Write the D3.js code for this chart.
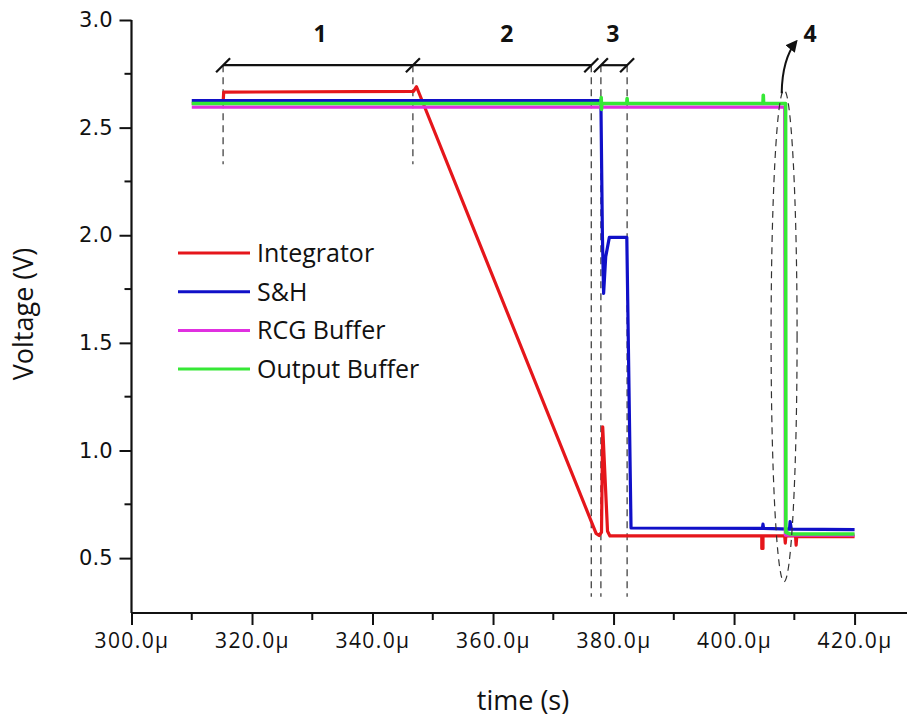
<!DOCTYPE html>
<html>
<head>
<meta charset="utf-8">
<script src="https://cdn.jsdelivr.net/npm/d3@7"></script>
<style>
  body { margin: 0; background: #fff; }
  svg { display: block; }
</style>
</head>
<body>
<div id="chart"></div>
<script>
var width = 907;
var height = 718;

// time in µs, voltage in V
var integratorT = [310, 315.2, 315.3, 346.8, 347.3, 347.8, 377.1, 377.6, 378.0, 378.2, 379.0, 379.4, 404.6, 404.6, 404.8, 404.8, 408.4, 408.5, 408.6, 410.2, 410.3, 410.4, 420];
var integratorV = [2.612, 2.612, 2.665, 2.668, 2.69, 2.655, 0.615, 0.605, 0.62, 1.11, 0.625, 0.603, 0.603, 0.545, 0.545, 0.603, 0.603, 0.57, 0.603, 0.603, 0.56, 0.6, 0.6];

var shT = [310, 377.9, 378.15, 378.35, 378.7, 379.3, 382.2, 382.9, 404.7, 404.8, 404.9, 409.2, 409.3, 409.5, 420];
var shV = [2.625, 2.625, 2.0, 1.73, 1.9, 1.99, 1.99, 0.64, 0.638, 0.658, 0.638, 0.635, 0.67, 0.635, 0.632];

var rcgT = [310, 408.4, 408.5, 420];
var rcgV = [2.595, 2.595, 0.607, 0.607];

var outT = [310, 377.9, 377.95, 378.0, 378.05, 382.2, 382.25, 382.3, 404.8, 404.85, 404.9, 408.55, 408.6, 409.3, 420];
var outV = [2.612, 2.612, 2.64, 2.585, 2.612, 2.612, 2.635, 2.612, 2.612, 2.65, 2.612, 2.612, 0.62, 0.612, 0.612];

var seriesNames = ["Integrator", "S&H", "RCG Buffer", "Output Buffer"];
var seriesColors = ["#e5161b", "#1010c8", "#e030e0", "#36e836"];

var xTicks = [300, 320, 340, 360, 380, 400, 420];
var xMinor = [310, 330, 350, 370, 390, 410];
var yTicks = [0.5, 1.0, 1.5, 2.0, 2.5, 3.0];
var yMinor = [0.75, 1.25, 1.75, 2.25, 2.75];

// phase markers (µs)
var phaseBounds = [315.2, 346.7, 376.3, 377.9, 382.25];
var phaseLabels = ["1", "2", "3"];
var phaseLabelT = [331.3, 362.3, 379.9];

var x = d3.scaleLinear().domain([300, 428.7]).range([131.5, 907]);
var y = d3.scaleLinear().domain([0.245, 3.0]).range([613, 20]);

var svg = d3.select("#chart").append("svg")
  .attr("width", width)
  .attr("height", height);

// axes
var xAxis = svg.append("g")
  .attr("transform", "translate(0," + y.range()[0] + ")")
  .call(d3.axisBottom(x).tickValues(xTicks).tickSize(12).tickPadding(8)
    .tickFormat(d => d.toFixed(1) + "\u00b5"));
xAxis.selectAll("text")
  .attr("font-family", "Open Sans")
  .attr("font-size", 21)
  .attr("letter-spacing", "1.4px")
  .attr("fill", "#111");
xAxis.append("g").selectAll("line")
  .data(xMinor)
  .join("line")
    .attr("x1", d => x(d)).attr("x2", d => x(d))
    .attr("y1", 0).attr("y2", 7)
    .attr("stroke", "#111").attr("stroke-width", 2);

var yAxis = svg.append("g")
  .attr("transform", "translate(" + x.range()[0] + ",0)")
  .call(d3.axisLeft(y).tickValues(yTicks).tickSize(12).tickPadding(7)
    .tickFormat(d3.format(".1f")));
yAxis.selectAll("text")
  .attr("font-family", "DejaVu Sans")
  .attr("font-size", 21)
  .attr("fill", "#111");
yAxis.append("g").selectAll("line")
  .data(yMinor)
  .join("line")
    .attr("y1", d => y(d)).attr("y2", d => y(d))
    .attr("x1", 0).attr("x2", -7)
    .attr("stroke", "#111").attr("stroke-width", 2);

svg.selectAll(".domain").attr("stroke", "#111").attr("stroke-width", 2.2);
svg.selectAll(".tick line").attr("stroke", "#111").attr("stroke-width", 2);
// x axis runs to the right edge with no end cap
xAxis.select(".domain").attr("d", "M" + x.range()[0] + ",0H" + x.range()[1]);
yAxis.select(".domain").attr("d", "M0," + y.range()[0] + "V" + y.range()[1]);

svg.append("text")
  .attr("x", 523).attr("y", 710)
  .attr("text-anchor", "middle")
  .attr("font-family", "Open Sans")
  .attr("font-size", 27)
  .attr("fill", "#111")
  .text("time (s)");

svg.append("text")
  .attr("transform", "translate(33,314) rotate(-90)")
  .attr("text-anchor", "middle")
  .attr("font-family", "Open Sans")
  .attr("font-size", 27)
  .attr("fill", "#111")
  .text("Voltage (V)");

// dashed guides
var dash = svg.append("g")
  .attr("stroke", "#333")
  .attr("stroke-width", 1.2)
  .attr("stroke-dasharray", "7,5");
dash.selectAll("line")
  .data(phaseBounds)
  .join("line")
    .attr("x1", d => x(d)).attr("x2", d => x(d))
    .attr("y1", y(2.79))
    .attr("y2", (d, i) => i < 2 ? y(2.33) : y(0.32));

// traces
var line = d3.line().x(d => x(d[0])).y(d => y(d[1]));
var series = [
  d3.zip(integratorT, integratorV),
  d3.zip(shT, shV),
  d3.zip(rcgT, rcgV),
  d3.zip(outT, outV)
];
svg.append("g").selectAll("path")
  .data(series)
  .join("path")
    .attr("d", line)
    .attr("fill", "none")
    .attr("stroke", (d, i) => seriesColors[i])
    .attr("stroke-width", (d, i) => i === 3 ? 3.6 : 3.2)
    .attr("stroke-linejoin", "round");

// phase bar on top
var bar = svg.append("g").attr("stroke", "#111").attr("stroke-width", 2.2);
bar.append("line")
  .attr("x1", x(phaseBounds[0])).attr("x2", x(phaseBounds[2]))
  .attr("y1", y(2.79)).attr("y2", y(2.79));
bar.append("line")
  .attr("x1", x(phaseBounds[3])).attr("x2", x(phaseBounds[4]))
  .attr("y1", y(2.79)).attr("y2", y(2.79));
bar.selectAll(".slash")
  .data(phaseBounds)
  .join("line")
    .attr("class", "slash")
    .attr("x1", d => x(d) - 7).attr("y1", y(2.79) + 7)
    .attr("x2", d => x(d) + 7).attr("y2", y(2.79) - 7);

svg.append("g").selectAll("text")
  .data(phaseLabels)
  .join("text")
    .attr("x", (d, i) => x(phaseLabelT[i]))
    .attr("y", y(2.9))
    .attr("text-anchor", "middle")
    .attr("font-family", "Open Sans")
    .attr("font-weight", "bold")
    .attr("font-size", 23)
    .attr("fill", "#111")
    .text(d => d);

// circled transition 4
svg.append("ellipse")
  .attr("cx", x(408.3)).attr("cy", (y(2.675) + y(0.39)) / 2)
  .attr("rx", 13).attr("ry", (y(0.39) - y(2.675)) / 2)
  .attr("fill", "none")
  .attr("stroke", "#333")
  .attr("stroke-width", 1.2)
  .attr("stroke-dasharray", "7,5");

svg.append("defs").append("marker")
  .attr("id", "head")
  .attr("viewBox", "0 0 10 10")
  .attr("refX", 8).attr("refY", 5)
  .attr("markerWidth", 6).attr("markerHeight", 6)
  .attr("orient", "auto")
  .append("path")
    .attr("d", "M0,0L10,5L0,10z")
    .attr("fill", "#111");

svg.append("path")
  .attr("d", "M" + x(407.9) + "," + y(2.66) +
    "Q" + x(408.0) + "," + y(2.82) + " " + x(410.3) + "," + y(2.9))
  .attr("fill", "none")
  .attr("stroke", "#111")
  .attr("stroke-width", 2)
  .attr("marker-end", "url(#head)");

svg.append("text")
  .attr("x", x(412.6)).attr("y", y(2.9))
  .attr("text-anchor", "middle")
  .attr("font-family", "Open Sans")
  .attr("font-weight", "bold")
  .attr("font-size", 23)
  .attr("fill", "#111")
  .text("4");

// legend
var legend = svg.append("g").selectAll("g")
  .data(seriesNames)
  .join("g")
    .attr("transform", (d, i) => "translate(178," + (253 + i * 38.7) + ")");
legend.append("line")
  .attr("x1", 0).attr("x2", 72)
  .attr("stroke", (d, i) => seriesColors[i])
  .attr("stroke-width", 3);
legend.append("text")
  .attr("x", 79).attr("y", 9)
  .attr("font-family", "Open Sans")
  .attr("font-size", 25)
  .attr("fill", "#111")
  .text(d => d);
</script>
</body>
</html>
